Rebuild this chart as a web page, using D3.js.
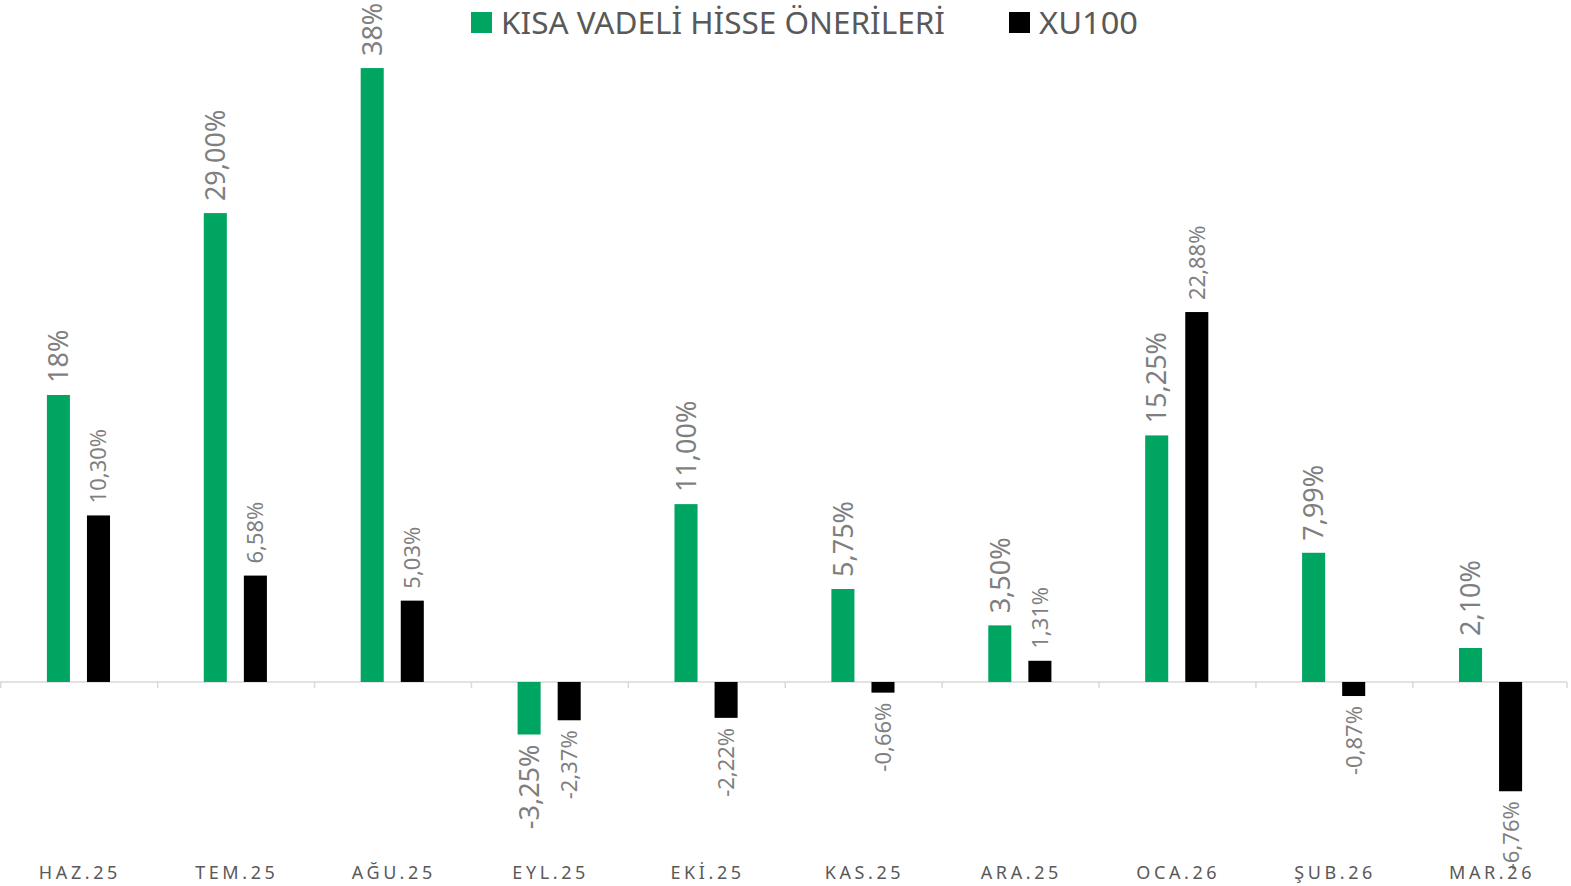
<!DOCTYPE html>
<html>
<head>
<meta charset="utf-8">
<script src="https://cdn.jsdelivr.net/npm/d3@7"></script>
<style>
  body { margin: 0; background: #fff; }
  svg { display: block; font-family: "Noto Sans", "Open Sans", sans-serif; }
</style>
</head>
<body>
<svg width="1571" height="886"></svg>
<script>
// veriler
const months = ["HAZ.25", "TEM.25", "AĞU.25", "EYL.25", "EKİ.25", "KAS.25", "ARA.25", "OCA.26", "ŞUB.26", "MAR.26"];
const oneriValues = [17.75, 29.00, 37.97, -3.25, 11.00, 5.75, 3.50, 15.25, 7.99, 2.10];
const oneriLabels = ["18%", "29,00%", "38%", "-3,25%", "11,00%", "5,75%", "3,50%", "15,25%", "7,99%", "2,10%"];
const xuValues = [10.30, 6.58, 5.03, -2.37, -2.22, -0.66, 1.31, 22.88, -0.87, -6.76];
const xuLabels = ["10,30%", "6,58%", "5,03%", "-2,37%", "-2,22%", "-0,66%", "1,31%", "22,88%", "-0,87%", "-6,76%"];
const seriesNames = ["KISA VADELİ HİSSE ÖNERİLERİ", "XU100"];
const colors = ["#00a562", "#000000"];

const svg = d3.select("svg");
const area = { width: 1571, height: 886, left: 0, right: 1569 };

// ölçekler
const scX = d3.scaleBand()
   .domain(months)
   .range([area.left, area.right]);

const scSub = d3.scaleBand()
   .domain([0, 1])
   .range([0, scX.bandwidth()])
   .paddingInner(0.425)
   .paddingOuter(1.17);

const scY = d3.scaleLinear()
   .domain([-12.62, 42.18])
   .range([886, 0]);

// sıfır çizgisi ve tikler
const y0 = scY(0);
svg.append("line")
   .attr("x1", area.left).attr("x2", area.right - 2)
   .attr("y1", y0).attr("y2", y0)
   .attr("stroke", "#d9d9d9").attr("stroke-width", 1.5);

svg.selectAll(".tick")
   .data(d3.range(months.length + 1))
   .enter()
   .append("line")
   .attr("x1", i => Math.min(area.left + i * scX.step() + 0.75, area.right - 2))
   .attr("x2", i => Math.min(area.left + i * scX.step() + 0.75, area.right - 2))
   .attr("y1", y0).attr("y2", y0 + 6)
   .attr("stroke", "#d9d9d9").attr("stroke-width", 1.5);

// çubuklar
const series = [
   { values: oneriValues, labels: oneriLabels, size: 27 },
   { values: xuValues, labels: xuLabels, size: 22 }
];

series.forEach((s, k) => {
   const rows = months.map((m, i) => ({ m: m, v: s.values[i], t: s.labels[i] }));
   svg.append("g").selectAll("rect")
      .data(rows)
      .enter()
      .append("rect")
      .attr("x", d => scX(d.m) + scSub(k))
      .attr("width", scSub.bandwidth())
      .attr("y", d => Math.min(scY(d.v), y0))
      .attr("height", d => Math.abs(scY(d.v) - y0))
      .attr("fill", colors[k]);

   svg.append("g").selectAll("text")
      .data(rows)
      .enter()
      .append("text")
      .attr("transform", d => {
         const cx = scX(d.m) + scSub(k) + scSub.bandwidth() / 2;
         const cy = d.v >= 0 ? scY(d.v) - 12 : scY(d.v) + 10;
         return `translate(${cx}, ${cy}) rotate(-90)`;
      })
      .attr("text-anchor", d => d.v >= 0 ? "start" : "end")
      .attr("dy", "0.36em")
      .attr("fill", "#7f7f7f")
      .style("font-size", s.size + "px")
      .text(d => d.t);
});

// ay etiketleri
svg.append("g").selectAll("text")
   .data(months)
   .enter()
   .append("text")
   .attr("x", d => scX(d) + scX.bandwidth() / 2 + 1.5)
   .attr("y", 879)
   .attr("text-anchor", "middle")
   .attr("fill", "#595959")
   .style("font-size", "18px")
   .style("letter-spacing", "3.6px")
   .text(d => d);

// lejant
const legend = [
   { x: 471, tx: 501, len: 444 },
   { x: 1009, tx: 1039, len: 99 }
];
legend.forEach((l, k) => {
   svg.append("rect")
      .attr("x", l.x).attr("y", 12)
      .attr("width", 21).attr("height", 21)
      .attr("fill", colors[k]);
   svg.append("text")
      .attr("x", l.tx).attr("y", 34)
      .attr("fill", "#595959")
      .attr("textLength", l.len)
      .attr("lengthAdjust", "spacingAndGlyphs")
      .style("font-size", "31px")
      .text(seriesNames[k]);
});
</script>
</body>
</html>
